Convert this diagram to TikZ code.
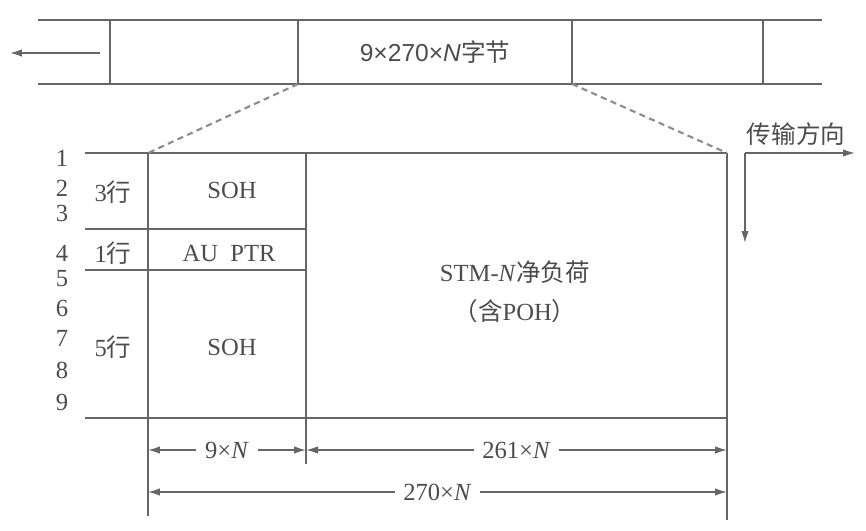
\documentclass[tikz,border=0pt]{standalone}
\usepackage{fontspec}
\setmainfont{Liberation Serif}
\setsansfont{Liberation Sans}
\newfontfamily\cjk{Noto Sans CJK SC}
\usetikzlibrary{arrows.meta,positioning}
\tikzset{
  ln/.style={draw=black!60, line width=0.8pt},
  dsh/.style={draw=black!45, line width=1.2pt, dash pattern=on 3.5pt off 2.5pt},
  tip/.style={ln, -{Latex[length=2.4mm,width=1.5mm]}},
  dim/.style={ln, {Latex[length=2.4mm,width=1.5mm]}-{Latex[length=2.4mm,width=1.5mm]}},
  lbl/.style={text=black!70, font=\fontsize{14}{16}\selectfont, inner sep=1pt},
  rownum/.style={lbl, inner sep=0pt},
  gap/.style={lbl, fill=white, inner sep=5pt}
}

\begin{document}
\begin{tikzpicture}[x=0.02cm, y=-0.02cm]
	\useasboundingbox (0,0) rectangle (866,531);
	% byte stream
	\coordinate (sTL) at (38,20);  \coordinate (sTR) at (822,20);
	\coordinate (sBL) at (38,84);  \coordinate (sBR) at (822,84);
	\draw[ln] (sTL) -- (sTR);
	\draw[ln] (sBL) -- (sBR);
	\foreach \x [count=\i] in {110,298,572,763}
		\draw[ln] (\x,20) coordinate (st\i) -- (\x,84) coordinate (sb\i);
	\node[lbl] (frame) at (435,52) {\sffamily 9×270×\textit{N}{\cjk 字节}};
	\coordinate (outA) at (100,53); \coordinate (outB) at (10,53);
	\draw[tip] (outA) -- (outB);
	%
	% frame
	\coordinate (fTL) at (85,153);   \coordinate (fTR) at (727,153);
	\coordinate (fBL) at (85,418);   \coordinate (fBR) at (727,418);
	\coordinate (a) at (148,153);    \coordinate (b) at (306,153);
	\coordinate (aD) at (148,516);   \coordinate (bD) at (306,464);
	\coordinate (cD) at (727,520);
	\draw[ln] (fTL) -- (fTR);
	\draw[ln] (fBL) -- (fBR);
	\draw[ln] (85,229) coordinate (l3) -- (306,229) coordinate (r3);
	\draw[ln] (85,270) coordinate (l4) -- (306,270) coordinate (r4);
	\draw[ln] (a) -- (aD);
	\draw[ln] (b) -- (bD);
	\draw[ln] (fTR) -- (cD);
	\draw[dsh] (sb2) -- (a);
	\draw[dsh] (sb3) -- (fTR);
	%
	\foreach \n/\y in {1/158,2/188,3/213,4/253,5/279,6/308,7/338,8/370,9/402}
		\node[rownum] (row\n) at (62,\y) {\n};
	\node[lbl] (n3) at (113,192) {3{\cjk 行}};
	\node[lbl] (n1) at (113,253) {1{\cjk 行}};
	\node[lbl] (n5) at (113,347) {5{\cjk 行}};
	\node[lbl] (soh1) at (232,190) {SOH};
	\node[lbl] (ptr) at (229,253) {AU~~PTR};
	\node[lbl] (soh2) at (232,347) {SOH};
	\node[lbl] (pay) at (515,272) {STM-\textit{N}{\cjk 净负荷}};
	\node[lbl] (poh) at (515,311) {{\cjk （含}POH{\cjk ）}};
	%
	% dimensions
	\draw[dim] (148,450) -- node[gap] {9×\textit{N}} (306,450);
	\draw[dim] (306,450) -- node[gap] {261×\textit{N}} (727,450);
	\draw[dim] (148,492) -- node[gap] {270×\textit{N}} (727,492);
	%
	% direction
	\coordinate (dir) at (745,153);
	\coordinate (dirE) at (855,153); \coordinate (dirS) at (745,243);
	\draw[tip] (dir) -- (dirE);
	\draw[tip] (dir) -- (dirS);
	\node[lbl] (dirtxt) at (796,134) {\cjk 传输方向};
\end{tikzpicture}
\end{document}
